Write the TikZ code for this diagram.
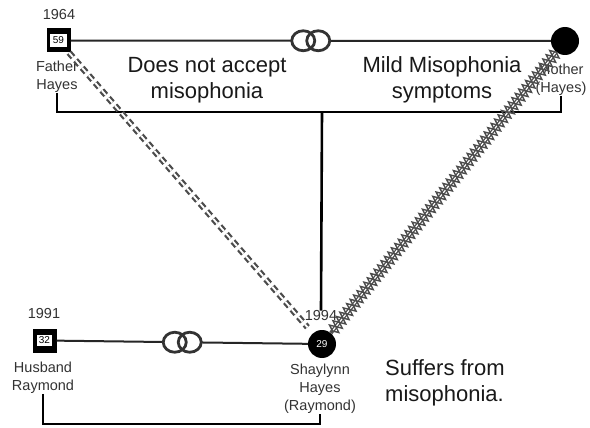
\documentclass[tikz,border=0pt]{standalone}
\usepackage{fontspec}
\setmainfont{Liberation Sans}
\usetikzlibrary{decorations.pathmorphing,calc}
\begin{document}
\begin{tikzpicture}[x=1pt,y=-1pt,
  lbl/.style={font=\fontsize{14.5}{18}\selectfont, text=black!80, align=center, inner sep=0pt},
  big/.style={font=\fontsize{22}{25.5}\selectfont, text=black!90, inner sep=0pt},
  male/.style={fill=black, minimum size=24pt, inner sep=0pt, font=\fontsize{10}{10}\selectfont},
  female/.style={circle, fill=black, minimum size=28pt, inner sep=0pt, font=\fontsize{10}{10}\selectfont, text=white},
  marr/.style={draw=black!85, line width=2pt},
  child/.style={draw=black, line width=2.6pt},
  cutoff/.style={draw=black!70, line width=2.2pt, double=white, double distance=1.8pt, dash pattern=on 6pt off 4pt},
  hostcore/.style={draw=black!70, line width=1.3pt, double=white, double distance=1.2pt},
  hostzig/.style={draw=black!70, line width=1.4pt, decorate, decoration={zigzag, amplitude=6pt, segment length=11pt}},
  hostzigm/.style={draw=black!70, line width=1.4pt, decorate, decoration={zigzag, mirror, amplitude=6pt, segment length=11pt}},
  rings/.pic={
    \fill[white] (-7.5,0) ellipse (11.5 and 10);
    \fill[white] (7.5,0) ellipse (11.5 and 10);
    \draw[black!80, line width=2.8pt] (-7.5,0) ellipse (11.5 and 10);
    \draw[black!80, line width=2.8pt] (7.5,0) ellipse (11.5 and 10);
  }
]
\useasboundingbox[fill=white] (0,0) rectangle (590,428);

% people
\node[male] (father) at (58.5,40.5) {\setlength{\fboxsep}{2.8pt}\colorbox{white}{59}};
\node[female] (mother) at (565,41) {};
\node[male] (husband) at (44.5,340.5) {\setlength{\fboxsep}{1.8pt}\colorbox{white}{32}};
\node[female] (shay) at (322,344) {29};

% years and names
\node[lbl] (y64) at (59,15) {1964};
\node[lbl] (y91) at (44,314) {1991};
\node[lbl] (y94) at (321,316) {1994};
\node[lbl] (fatherlbl) at (57,77) {Father\\Hayes};
\node[lbl] (motherlbl) at (561,80) {Mother\\(Hayes)};
\node[lbl] (husbandlbl) at (43,378) {Husband\\Raymond};
\node[lbl] (shaylbl) at (320,389) {Shaylynn\\Hayes\\(Raymond)};

% notes
\node[big, align=center] (note1) at (207,80) {Does not accept\\misophonia};
\node[big, align=center] (note2) at (442,80) {Mild Misophonia\\symptoms};
\node[big, align=left, anchor=west] (note3) at (385,383) {Suffers from\\misophonia.};

% marriages
\draw[marr] (father) -- (mother) pic[pos=0.5]{rings};
\draw[marr] (husband) -- (shay) pic[pos=0.5]{rings};

% children
\coordinate (sib) at (322,112);
\coordinate (sib2) at (183,424);
\draw[child] (fatherlbl.south) |- (sib) -| (motherlbl.south);
\draw[child] (sib) -- (y94.north);
\draw[child] (husbandlbl.south) |- (sib2) -| (shaylbl.south);

% emotional relationships
\draw[cutoff, shorten >=8pt] (father) -- (shay);
\path[preaction={hostcore}, postaction={hostzig}, postaction={hostzigm}] (mother) -- (shay);
\end{tikzpicture}
\end{document}
